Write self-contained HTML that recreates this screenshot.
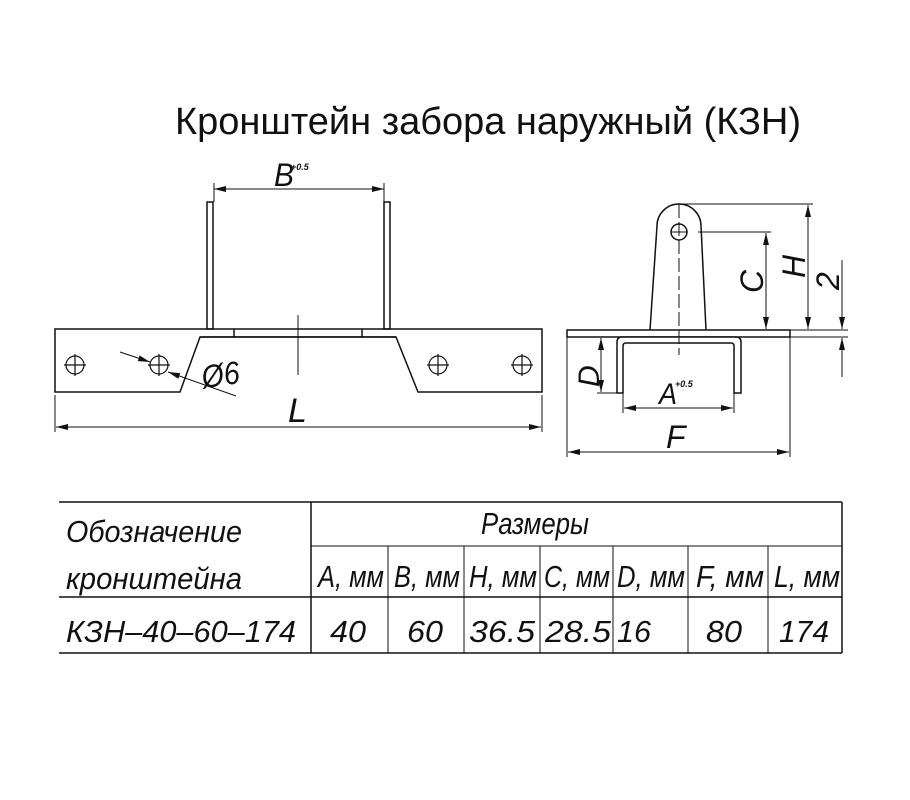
<!DOCTYPE html>
<html><head><meta charset="utf-8"><style>
html,body{margin:0;padding:0;background:#fff;}
svg{display:block;}
text{font-family:"Liberation Sans",sans-serif;fill:#111;}
.t{font-style:italic;}
</style></head><body>
<svg width="910" height="800" viewBox="0 0 910 800" xmlns="http://www.w3.org/2000/svg">
<defs>
<marker id="a" viewBox="0 0 12 6" refX="12" refY="3" markerWidth="12" markerHeight="6" orient="auto-start-reverse" markerUnits="userSpaceOnUse"><path d="M0,0 L12,3 L0,6 z" fill="#111"/></marker>
</defs>
<text x="175" y="134" font-size="38" textLength="626" lengthAdjust="spacingAndGlyphs">Кронштейн забора наружный (КЗН)</text>

<g stroke="#111" fill="none" stroke-width="1.5">
<path d="M55,329 H542 V392 H418 L396,337 H200 L180,392 H55 Z"/>
<line x1="200" y1="337" x2="396" y2="337"/>
<line x1="234" y1="329" x2="234" y2="337"/>
<line x1="362" y1="329" x2="362" y2="337"/>
<rect x="207" y="202" width="6" height="127"/>
<rect x="384" y="202" width="6" height="127"/>
<g stroke-width="1.2">
<circle cx="75" cy="365" r="9"/><path d="M64,365H86M75,354V376"/>
<circle cx="159" cy="365" r="9"/><path d="M148,365H170M159,354V376"/>
<circle cx="438" cy="365" r="9"/><path d="M427,365H449M438,354V376"/>
<circle cx="522" cy="365" r="9"/><path d="M511,365H533M522,354V376"/>
</g>
</g>
<g stroke="#111" fill="none" stroke-width="1">
<line x1="298" y1="315" x2="298" y2="375"/>
<line x1="214" y1="183" x2="214" y2="202"/>
<line x1="384" y1="183" x2="384" y2="202"/>
<line x1="214" y1="189" x2="384" y2="189" marker-start="url(#a)" marker-end="url(#a)"/>
<line x1="55" y1="395" x2="55" y2="432"/>
<line x1="542" y1="395" x2="542" y2="432"/>
<line x1="56" y1="427" x2="541" y2="427" marker-start="url(#a)" marker-end="url(#a)"/>
<line x1="120" y1="352" x2="150" y2="362" marker-end="url(#a)"/>
<line x1="236" y1="396" x2="168" y2="372" marker-end="url(#a)"/>
</g>
<text class="t" x="274" y="186" font-size="32" textLength="20" lengthAdjust="spacingAndGlyphs">B</text>
<text class="t" x="291" y="170" font-size="9" font-weight="bold">+0.5</text>
<text class="t" x="203" y="388" font-size="32" textLength="38" lengthAdjust="spacingAndGlyphs" transform="rotate(-8 205 386)">Ø6</text>
<text class="t" x="288" y="422" font-size="34">L</text>

<g stroke="#111" fill="none" stroke-width="1.5">
<rect x="567" y="330" width="223" height="7"/>
<path d="M617,393 V342 Q617,337 622,337 H736 Q741,337 741,342 V393 H734 V346 Q734,343 731,343 H626 Q623,343 623,346 V393 Z" fill="#fff"/>
<path d="M650,330 L657,226 A22,22 0 0 1 701,226 L706,330"/>
<circle cx="679" cy="232" r="8"/>
<line x1="671" y1="232" x2="687" y2="232" stroke-width="1"/>
</g>
<g stroke="#111" fill="none" stroke-width="1">
<line x1="679" y1="204" x2="679" y2="355" stroke-dasharray="14,4"/>
<line x1="679" y1="204" x2="813" y2="204"/>
<line x1="698" y1="232" x2="771" y2="232"/>
<line x1="790" y1="330" x2="848" y2="330"/>
<line x1="790" y1="337" x2="848" y2="337"/>
<line x1="808" y1="205" x2="808" y2="329" marker-start="url(#a)" marker-end="url(#a)"/>
<line x1="766" y1="233" x2="766" y2="329" marker-start="url(#a)" marker-end="url(#a)"/>
<line x1="842" y1="260" x2="842" y2="329" marker-end="url(#a)"/>
<line x1="842" y1="377" x2="842" y2="338" marker-end="url(#a)"/>
<line x1="597" y1="393" x2="617" y2="393"/>
<line x1="601" y1="338" x2="601" y2="392" marker-start="url(#a)" marker-end="url(#a)"/>
<line x1="623" y1="393" x2="623" y2="413"/>
<line x1="734" y1="393" x2="734" y2="413"/>
<line x1="624" y1="408" x2="733" y2="408" marker-start="url(#a)" marker-end="url(#a)"/>
<line x1="567" y1="337" x2="567" y2="457"/>
<line x1="790" y1="337" x2="790" y2="457"/>
<line x1="568" y1="452" x2="789" y2="452" marker-start="url(#a)" marker-end="url(#a)"/>
</g>
<text class="t" x="659" y="404" font-size="30" textLength="18" lengthAdjust="spacingAndGlyphs">A</text>
<text class="t" x="675" y="387" font-size="9" font-weight="bold">+0.5</text>
<text class="t" x="666" y="448" font-size="32">F</text>
<text class="t" font-size="30" transform="translate(599 387) rotate(-90)">D</text>
<text class="t" font-size="32" transform="translate(763 293) rotate(-90)">C</text>
<text class="t" font-size="32" transform="translate(805 278) rotate(-90)">H</text>
<text class="t" font-size="32" transform="translate(839 290) rotate(-90)">2</text>

<g stroke="#111" stroke-width="1.5" fill="none">
<line x1="59" y1="502" x2="842" y2="502"/>
<line x1="59" y1="597" x2="842" y2="597"/>
<line x1="59" y1="653" x2="842" y2="653"/>
<line x1="311" y1="546" x2="842" y2="546" stroke-width="1"/>
<line x1="311" y1="502" x2="311" y2="653"/>
<line x1="842" y1="502" x2="842" y2="653"/>
<g stroke-width="1">
<line x1="388" y1="546" x2="388" y2="653"/>
<line x1="464" y1="546" x2="464" y2="653"/>
<line x1="540" y1="546" x2="540" y2="653"/>
<line x1="613" y1="546" x2="613" y2="653"/>
<line x1="688" y1="546" x2="688" y2="653"/>
<line x1="768" y1="546" x2="768" y2="653"/>
</g>
</g>
<g font-size="31">
<text class="t" x="66" y="542" textLength="176" lengthAdjust="spacingAndGlyphs">Обозначение</text>
<text class="t" x="66" y="589" textLength="176" lengthAdjust="spacingAndGlyphs">кронштейна</text>
<text class="t" x="481" y="534" textLength="108" lengthAdjust="spacingAndGlyphs">Размеры</text>
<text class="t" x="318" y="587" textLength="66" lengthAdjust="spacingAndGlyphs">A, мм</text>
<text class="t" x="394" y="587" textLength="66" lengthAdjust="spacingAndGlyphs">B, мм</text>
<text class="t" x="469" y="587" textLength="68" lengthAdjust="spacingAndGlyphs">H, мм</text>
<text class="t" x="544" y="587" textLength="66" lengthAdjust="spacingAndGlyphs">C, мм</text>
<text class="t" x="617" y="587" textLength="68" lengthAdjust="spacingAndGlyphs">D, мм</text>
<text class="t" x="696" y="587" textLength="68" lengthAdjust="spacingAndGlyphs">F, мм</text>
<text class="t" x="774" y="587" textLength="66" lengthAdjust="spacingAndGlyphs">L, мм</text>
<text class="t" x="66" y="642" textLength="230" lengthAdjust="spacingAndGlyphs">КЗН–40–60–174</text>
<text class="t" x="330" y="642" textLength="36" lengthAdjust="spacingAndGlyphs">40</text>
<text class="t" x="407" y="642" textLength="36" lengthAdjust="spacingAndGlyphs">60</text>
<text class="t" x="469" y="642" textLength="66" lengthAdjust="spacingAndGlyphs">36.5</text>
<text class="t" x="545" y="642" textLength="66" lengthAdjust="spacingAndGlyphs">28.5</text>
<text class="t" x="617" y="642" textLength="34" lengthAdjust="spacingAndGlyphs">16</text>
<text class="t" x="706" y="642" textLength="36" lengthAdjust="spacingAndGlyphs">80</text>
<text class="t" x="779" y="642" textLength="50" lengthAdjust="spacingAndGlyphs">174</text>
</g>
</svg>
</body></html>
